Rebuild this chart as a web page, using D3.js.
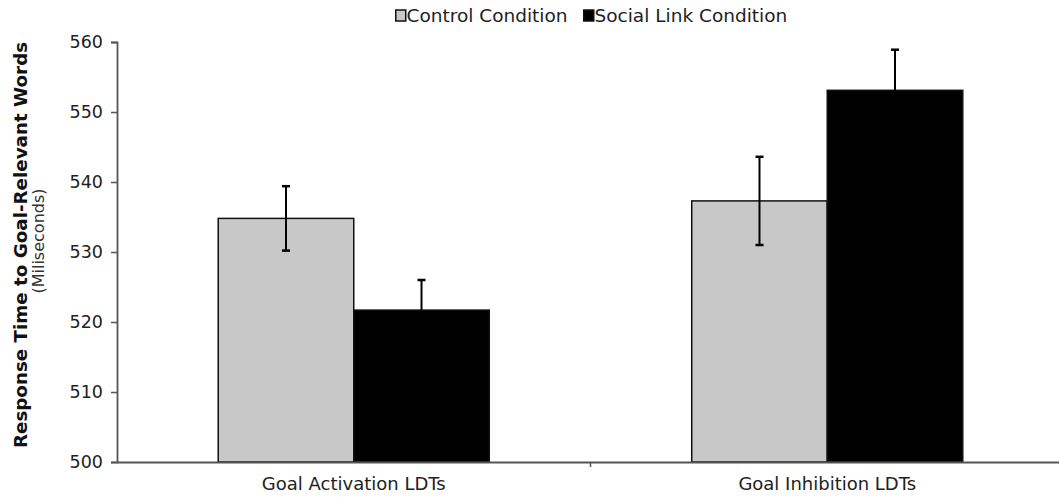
<!DOCTYPE html>
<html>
<head>
<meta charset="utf-8">
<script src="https://cdn.jsdelivr.net/npm/d3@7"></script>
<style>
  html, body { margin: 0; padding: 0; background: #fff; }
  svg { display: block; }
  svg text { font-family: "DejaVu Sans", Verdana, sans-serif; }
</style>
</head>
<body>
<div id="chart"></div>
<script>
// --- Data ---
const categories = ['Goal Activation LDTs', 'Goal Inhibition LDTs'];
const seriesNames = ['Control Condition', 'Social Link Condition'];
const controlValues = [534.8, 537.3];
const socialValues = [521.7, 553.1];
const controlErrors = [4.6, 6.3];
const socialErrors = [4.3, 5.8];
const yTicks = [500, 510, 520, 530, 540, 550, 560];

const colors = { 'Control Condition': '#c8c8c8', 'Social Link Condition': '#000000' };
const fontFamily = '"DejaVu Sans", Verdana, sans-serif';

const width = 1059, height = 497;
const margin = { left: 117, right: -5, top: 42, bottom: 35 };

const rows = categories.map((c, i) => ({
  category: c,
  bars: [
    { series: seriesNames[0], value: controlValues[i], err: controlErrors[i] },
    { series: seriesNames[1], value: socialValues[i], err: socialErrors[i] }
  ]
}));

const svg = d3.select('#chart').append('svg')
  .attr('width', width)
  .attr('height', height)
  .attr('font-family', fontFamily);

const x0 = d3.scaleBand()
  .domain(categories)
  .range([margin.left, width - margin.right])
  .padding(0);

const x1 = d3.scaleBand()
  .domain(seriesNames)
  .range([0, x0.bandwidth()])
  .paddingInner(0)
  .paddingOuter(0.747);

const y = d3.scaleLinear()
  .domain([500, 560])
  .range([height - margin.bottom, margin.top]);

// Bars
const groups = svg.selectAll('.group')
  .data(rows)
  .join('g')
  .attr('class', 'group')
  .attr('transform', d => `translate(${x0(d.category)},0)`);

groups.selectAll('rect')
  .data(d => d.bars)
  .join('rect')
  .attr('x', d => x1(d.series))
  .attr('y', d => y(d.value))
  .attr('width', x1.bandwidth())
  .attr('height', d => y(500) - y(d.value))
  .attr('fill', d => colors[d.series])
  .attr('stroke', '#111')
  .attr('stroke-width', 1.5);

// Error bars
const errG = groups.selectAll('.err')
  .data(d => d.bars)
  .join('g')
  .attr('class', 'err')
  .attr('stroke', '#000')
  .attr('stroke-width', 2);

errG.append('line')
  .attr('x1', d => x1(d.series) + x1.bandwidth() / 2)
  .attr('x2', d => x1(d.series) + x1.bandwidth() / 2)
  .attr('y1', d => y(d.value + d.err))
  .attr('y2', d => y(d.value - d.err));

errG.selectAll('.cap')
  .data(d => [d.value + d.err, d.value - d.err].map(v => ({ v, d })))
  .join('line')
  .attr('class', 'cap')
  .attr('x1', e => x1(e.d.series) + x1.bandwidth() / 2 - 4)
  .attr('x2', e => x1(e.d.series) + x1.bandwidth() / 2 + 4)
  .attr('y1', e => y(e.v))
  .attr('y2', e => y(e.v))
  .attr('stroke-width', 2.5);

// Y axis
const yAxis = svg.append('g')
  .attr('transform', `translate(${margin.left},0)`)
  .call(d3.axisLeft(y).tickValues(yTicks).tickSize(6).tickPadding(8).tickFormat(d3.format('d')))
  .attr('font-family', fontFamily);
yAxis.select('.domain').attr('stroke', '#555').attr('stroke-width', 1.8);
yAxis.selectAll('.tick line').attr('stroke', '#555').attr('stroke-width', 1.5);
yAxis.selectAll('.tick text')
  .attr('font-size', 17.5)
  .attr('fill', '#222');

// X axis
const xAxis = svg.append('g')
  .attr('transform', `translate(0,${y(500)})`)
  .call(d3.axisBottom(x0).tickSize(0).tickPadding(15))
  .attr('font-family', fontFamily);
xAxis.select('.domain').attr('stroke', '#555').attr('stroke-width', 1.8);
xAxis.selectAll('.tick text')
  .attr('font-size', 18)
  .attr('fill', '#222');

// boundary tick between categories
xAxis.selectAll('.sep')
  .data(categories.slice(1))
  .join('line')
  .attr('class', 'sep')
  .attr('x1', d => x0(d))
  .attr('x2', d => x0(d))
  .attr('y1', 0)
  .attr('y2', 5)
  .attr('stroke', '#555')
  .attr('stroke-width', 1.5);

// Y titles
svg.append('text')
  .attr('transform', 'translate(20,245) rotate(-90)')
  .attr('text-anchor', 'middle')
  .attr('dominant-baseline', 'central')
  .attr('font-size', 18.3)
  .attr('font-weight', 'bold')
  .attr('fill', '#111')
  .text('Response Time to Goal-Relevant Words');

svg.append('text')
  .attr('transform', 'translate(38,241) rotate(-90)')
  .attr('text-anchor', 'middle')
  .attr('dominant-baseline', 'central')
  .attr('font-size', 16)
  .attr('fill', '#333')
  .text('(Miliseconds)');

// Legend
const legend = svg.append('g').attr('transform', 'translate(395,16)');
const legendX = [0, 188];
const items = legend.selectAll('.li')
  .data(seriesNames)
  .join('g')
  .attr('class', 'li')
  .attr('transform', (d, i) => `translate(${legendX[i]},0)`);
items.append('rect')
  .attr('x', 0.75)
  .attr('y', -6)
  .attr('width', 10)
  .attr('height', 11)
  .attr('fill', d => colors[d])
  .attr('stroke', '#111')
  .attr('stroke-width', 1.5);
items.append('text')
  .attr('x', 11.5)
  .attr('y', -1)
  .attr('dominant-baseline', 'central')
  .attr('font-size', 18.5)
  .attr('fill', '#222')
  .text(d => d);
</script>
</body>
</html>
